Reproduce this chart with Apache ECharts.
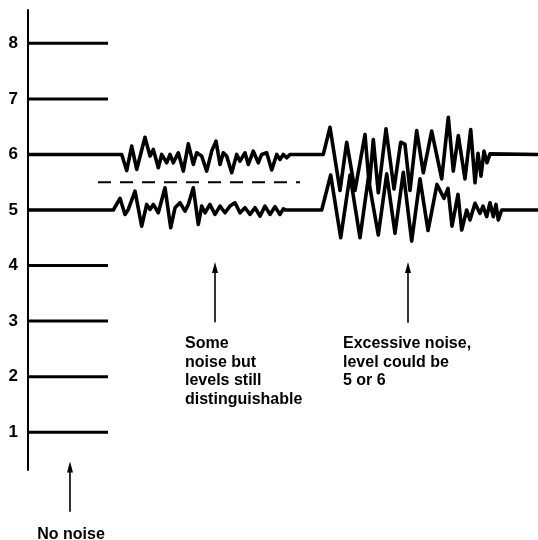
<!DOCTYPE html>
<html><head><meta charset="utf-8">
<script src="https://cdn.jsdelivr.net/npm/echarts@6/dist/echarts.min.js"></script>
<style>html,body{margin:0;padding:0;background:#fff}#c{width:538px;height:540px}</style>
</head><body><div id="c"></div>
<script>
// ---- data ----
const yTicks = [1, 2, 3, 4, 5, 6, 7, 8];
const quietLevels = [1, 2, 3, 4, 7, 8];
const quietSpan = [28, 108];
const traceSpan = [28, 538];
// "some noise" segment on level 6 and level 5
const some6 = [[121.7,6.00],[126.7,5.71],[131.7,6.15],[136.7,5.73],[145,6.31],[150,5.97],[153.3,6.09],[158.3,5.76],[161.7,6.00],[166.7,5.85],[170,6.00],[173.3,5.85],[178.3,6.03],[183.3,5.70],[188.3,6.19],[193.3,5.82],[196.7,6.03],[201.7,5.97],[206.7,5.70],[211.7,6.06],[216,6.24],[220,5.82],[223.3,6.03],[226.7,5.97],[231.7,5.67],[236.7,6.00],[240,5.88],[245,6.03],[248.3,5.82],[253.3,6.06],[258.3,5.85],[261.7,6.00],[266.7,6.03],[271.7,5.72],[276.7,6.00],[280,5.91],[283.3,6.00],[286.7,5.94],[290,6.00]];
const some5 = [[113.3,5.00],[120,5.21],[125,4.92],[128.3,5.01],[135,5.34],[141.7,4.71],[146.7,5.10],[150,5.01],[153.3,5.10],[158.3,4.95],[165,5.40],[170.7,4.68],[175,5.04],[180,5.13],[185,4.98],[188.3,5.10],[193.3,5.40],[198.3,4.74],[201.7,5.07],[205,4.95],[210,5.10],[215,4.92],[220,5.07],[225,4.95],[230,5.07],[235,5.13],[240,4.95],[245,5.04],[250,4.92],[255,5.04],[260,4.89],[265,5.07],[270,4.92],[275,5.06],[280,4.92],[283.3,5.02],[285.7,5.00]];
// "excessive noise" segment on level 6 and level 5
const excess6 = [[323.3,6.00],[330,6.49],[340,5.35],[346.7,6.22],[355,5.35],[365,6.36],[369.3,5.43],[373.3,6.27],[378.3,5.31],[386,6.46],[394,5.38],[400.7,6.22],[405,6.18],[410,5.35],[416.7,6.43],[423.3,5.67],[431.7,6.42],[441.7,5.56],[448.3,6.67],[453.3,5.70],[458.3,6.34],[465,5.56],[470.7,6.45],[475,5.49],[478,6.02],[481,5.61],[484,6.06],[487,5.85],[490,6.01]];
const excess5 = [[321.7,5.00],[330.7,5.63],[340.7,4.50],[350,5.63],[360,4.50],[368.3,5.57],[378.3,4.55],[386.7,5.65],[395,4.58],[403.3,5.68],[411.7,4.44],[420,5.56],[428,4.63],[437,5.46],[444,5.21],[448,5.39],[452,4.71],[458,5.28],[461.7,4.64],[466.7,5.00],[470,4.82],[475,5.12],[480,4.94],[483,5.07],[486.7,4.88],[490,5.13],[493.3,4.88],[496,5.10],[498.3,4.82],[501.7,5.00]];
const dashedLevel = 5.5;
const dashedSpan = [98, 300];
const arrows = [
  { x: 70,  from: -0.43, to: 0.41 },
  { x: 215, from: 2.98,  to: 4.0 },
  { x: 408, from: 2.97,  to: 4.0 }
];
const notes = [
  { x: 185, y: 2.76, align: 'left',   lines: ['Some', 'noise but', 'levels still', 'distinguishable'] },
  { x: 343, y: 2.76, align: 'left',   lines: ['Excessive noise,', 'level could be', '5 or 6'] },
  { x: 71,  y: -0.68, align: 'center', lines: ['No noise'] }
];

// ---- chart ----
const FONT = '"Liberation Sans", Arial, Helvetica, sans-serif';
const chart = echarts.init(document.getElementById('c'), null, { renderer: 'canvas' });
const levelStyle = { color: '#000', width: 3 };
const noiseStyle = { color: '#000', width: 3.6, join: 'round' };
const series = [];
quietLevels.forEach(function (lv) {
  series.push({ type: 'line', symbol: 'none', silent: true, lineStyle: levelStyle,
    data: [[quietSpan[0], lv], [quietSpan[1], lv]] });
});
series.push({ type: 'line', symbol: 'none', silent: true, lineStyle: noiseStyle,
  data: [[traceSpan[0], 6]].concat(some6, excess6, [[traceSpan[1], 6]]) });
series.push({ type: 'line', symbol: 'none', silent: true, lineStyle: noiseStyle,
  data: [[traceSpan[0], 5]].concat(some5, excess5, [[traceSpan[1], 5]]) });
series.push({ type: 'line', symbol: 'none', silent: true,
  lineStyle: { color: '#000', width: 2, type: [13, 9] },
  data: [[dashedSpan[0], dashedLevel], [dashedSpan[1], dashedLevel]] });
arrows.forEach(function (a) {
  series.push({ type: 'line', symbol: 'none', silent: true, clip: false,
    lineStyle: { color: '#000', width: 1.6 },
    data: [[a.x, a.from], [a.x, a.to]],
    markPoint: {
      symbol: 'triangle', symbolSize: [6, 11], symbolOffset: [0, 2],
      itemStyle: { color: '#000', opacity: 1 }, label: { show: false },
      data: [{ coord: [a.x, a.to] }]
    }
  });
});
notes.forEach(function (n) {
  series.push({ type: 'scatter', silent: true, clip: false, symbolSize: 0,
    itemStyle: { opacity: 1, color: '#000' },
    data: [[n.x, n.y]],
    label: { show: true, position: 'inside', formatter: n.lines.join('\n'),
      color: '#000', opacity: 1, fontSize: 16, fontWeight: 'bold', fontFamily: FONT, lineHeight: 18.5,
      align: n.align, verticalAlign: 'top' }
  });
});

chart.setOption({
  animation: false,
  backgroundColor: '#fff',
  grid: { left: 28, right: 0, top: 10, bottom: 70, containLabel: false },
  xAxis: { type: 'value', min: 28, max: 538, show: false },
  yAxis: {
    type: 'value', min: 0.32, max: 8.6,
    axisLine: { show: true, lineStyle: { color: '#000', width: 2 } },
    axisTick: { show: false },
    splitLine: { show: false },
    axisLabel: { customValues: yTicks, color: '#000', fontSize: 17, fontWeight: 'bold', fontFamily: FONT, margin: 10 }
  },
  series: series
});
</script></body></html>
